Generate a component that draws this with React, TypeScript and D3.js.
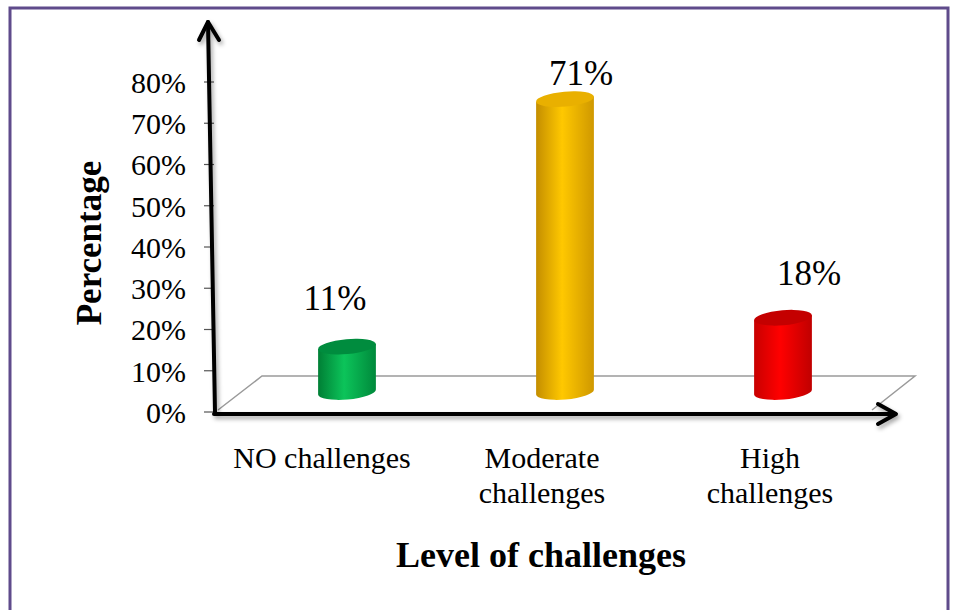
import { useEffect, useRef } from 'react';
import * as d3 from 'd3';

const categories = ['NO challenges', 'Moderate challenges', 'High challenges'];
const categoryLines = [['NO challenges'], ['Moderate', 'challenges'], ['High', 'challenges']];
const values = [0.11, 0.71, 0.18];
const valueLabels = ['11%', '71%', '18%'];
const yTicks = [0, 0.1, 0.2, 0.3, 0.4, 0.5, 0.6, 0.7, 0.8];

// colour per bar: [edge dark, centre light, edge dark, top]
const barColors = [
  ['#007f35', '#0cc45a', '#00893b', '#008c3e'],
  ['#c48e00', '#ffc800', '#cf9800', '#e9b000'],
  ['#c80000', '#ff0000', '#c00000', '#c40000'],
];
// hand placed labels (offset from bar centre / bar top)
const labelDx = [-12, 16, 26];
const labelDy = [-37, -14, -33];
const catDx = [-25, -23, -13];

export default function App() {
  const svgRef = useRef<SVGSVGElement>(null);

  useEffect(() => {
    if (!svgRef.current) return;
    const svg = d3.select(svgRef.current);
    svg.selectAll('*').remove();

    const font = 'Liberation Serif, Times New Roman, serif';
    const depth = 20; // bars sit half way back on the floor
    const rx = 29;
    const ry = 7.5;
    const tilt = -5;

    const y = d3.scaleLinear().domain([0, 0.8]).range([412, 82]);
    const x = d3.scaleBand<string>().domain(categories).range([238, 892]);
    const cx = (c: string) => (x(c) ?? 0) + x.bandwidth() / 2;

    const defs = svg.append('defs');
    const shadow = defs.append('filter').attr('id', 'shadow')
      .attr('x', '-10%').attr('y', '-10%').attr('width', '120%').attr('height', '130%');
    shadow.append('feDropShadow')
      .attr('dx', 2).attr('dy', 3).attr('stdDeviation', 2)
      .attr('flood-color', '#000').attr('flood-opacity', 0.35);

    barColors.forEach((c, i) => {
      const g = defs.append('linearGradient').attr('id', `bar${i}`)
        .attr('x1', 0).attr('x2', 1).attr('y1', 0).attr('y2', 0);
      g.append('stop').attr('offset', '0%').attr('stop-color', c[0]);
      g.append('stop').attr('offset', '45%').attr('stop-color', c[1]);
      g.append('stop').attr('offset', '100%').attr('stop-color', c[2]);
    });

    // frame
    svg.append('rect')
      .attr('x', 10).attr('y', 8).attr('width', 938).attr('height', 640)
      .attr('fill', '#fff').attr('stroke', '#5f4b8b').attr('stroke-width', 3);

    // floor
    svg.append('path')
      .attr('d', 'M218,410 L262,376 L915,376 L872,410')
      .attr('fill', 'none').attr('stroke', '#9a9a9a').attr('stroke-width', 1.5);

    // y ticks + labels
    const yAxis = svg.append('g');
    yTicks.forEach((t) => {
      yAxis.append('line')
        .attr('x1', 204).attr('x2', 214).attr('y1', y(t)).attr('y2', y(t))
        .attr('stroke', '#555').attr('stroke-width', 1.2);
      yAxis.append('text')
        .attr('x', 186).attr('y', y(t)).attr('dy', '0.36em')
        .attr('text-anchor', 'end').attr('font-family', font).attr('font-size', 30)
        .attr('fill', '#000').text(d3.format('.0%')(t));
    });

    // cylinders
    const sin = Math.sin((tilt * Math.PI) / 180);
    const cos = Math.cos((tilt * Math.PI) / 180);
    categories.forEach((c, i) => {
      const m = cx(c);
      const base = y(0) - depth;
      const top = y(values[i]) - depth;
      const lx = m - rx * cos, rxp = m + rx * cos;
      const dy = rx * sin;
      svg.append('path')
        .attr('d', `M${lx},${top - dy} L${lx},${base - dy} A${rx},${ry} ${tilt} 0 0 ${rxp},${base + dy} L${rxp},${top + dy} Z`)
        .attr('fill', `url(#bar${i})`);
      svg.append('ellipse')
        .attr('cx', m).attr('cy', top).attr('rx', rx).attr('ry', ry)
        .attr('transform', `rotate(${tilt} ${m} ${top})`)
        .attr('fill', barColors[i][3]);
      svg.append('text')
        .attr('x', m + labelDx[i]).attr('y', top + labelDy[i])
        .attr('text-anchor', 'middle').attr('font-family', font).attr('font-size', 35)
        .attr('fill', '#000').text(valueLabels[i]);
    });

    // axes arrows
    const axes = svg.append('g').attr('filter', 'url(#shadow)')
      .attr('fill', 'none').attr('stroke', '#000').attr('stroke-width', 4)
      .attr('stroke-linecap', 'round').attr('stroke-linejoin', 'round');
    axes.append('path').attr('d', 'M215,412 L208,22');
    axes.append('path').attr('d', 'M199,40 L208,22 L219,40');
    axes.append('path').attr('d', 'M214,414 L895,414');
    axes.append('path').attr('d', 'M878,404 L896,414 L878,424');

    // category labels
    categories.forEach((c, i) => {
      const t = svg.append('text')
        .attr('text-anchor', 'middle').attr('font-family', font).attr('font-size', 30)
        .attr('fill', '#000');
      categoryLines[i].forEach((line, j) => {
        t.append('tspan').attr('x', cx(c) + catDx[i]).attr('y', 468 + j * 35).text(line);
      });
    });

    // axis titles
    svg.append('text')
      .attr('x', 541).attr('y', 567).attr('text-anchor', 'middle')
      .attr('font-family', font).attr('font-size', 36).attr('font-weight', 'bold')
      .text('Level of challenges');
    svg.append('text')
      .attr('transform', 'translate(101,243) rotate(-90)').attr('text-anchor', 'middle')
      .attr('font-family', font).attr('font-size', 35).attr('font-weight', 'bold')
      .text('Percentage');
  }, []);

  return (
    <svg ref={svgRef} width={958} height={610}
      style={{ position: 'absolute', left: 0, top: 0, display: 'block' }} />
  );
}
